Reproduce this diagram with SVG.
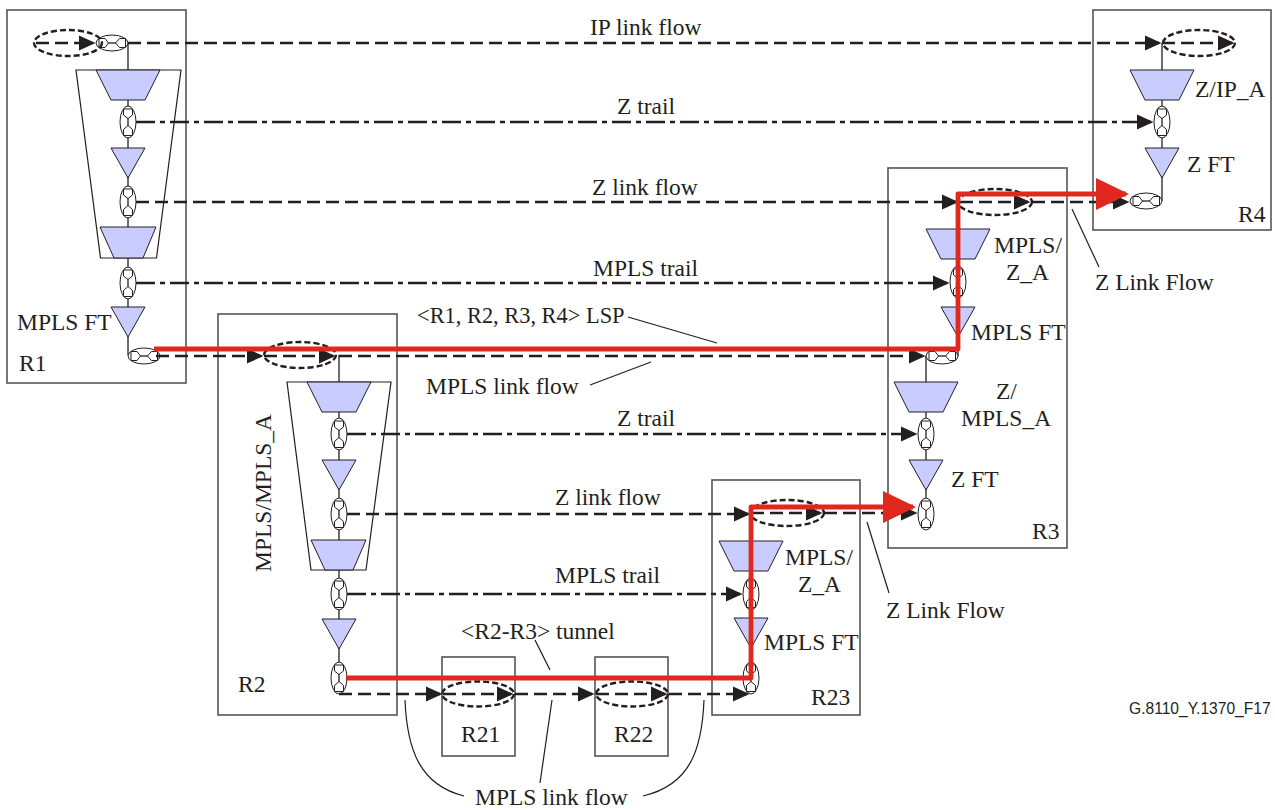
<svg xmlns="http://www.w3.org/2000/svg" xmlns:xlink="http://www.w3.org/1999/xlink" width="1275" height="810" viewBox="0 0 1275 810">
<style>
text{font-family:"Liberation Serif","Times New Roman",serif;font-size:23.5px;fill:#231f20}
.code{font-family:"Liberation Sans",Arial,sans-serif;font-size:15.6px}
.lsp{font-size:22.4px}
.box{fill:none;stroke:#555;stroke-width:1.6}
.outer{fill:none;stroke:#231f20;stroke-width:1.2}
.wire{fill:none;stroke:#231f20;stroke-width:1.3}
.blue{fill:#c9ccff;stroke:#231f20;stroke-width:1}
.flow{fill:none;stroke:#231f20;stroke-width:2.6;stroke-dasharray:13 6;marker-end:url(#ah)}
.trail{fill:none;stroke:#231f20;stroke-width:2.6;stroke-dasharray:19 5 5 5;marker-end:url(#ah)}
.loop{fill:none;stroke:#231f20;stroke-width:2.4;stroke-dasharray:6 3}
.lead{fill:none;stroke:#231f20;stroke-width:1.2}
.red{fill:none;stroke:#e0281e;stroke-width:4.8;stroke-linejoin:round}
.pe{fill:#fff;stroke:#231f20;stroke-width:1}
.ps{fill:#fff;stroke:#231f20;stroke-width:1}
</style>
<defs>
<marker id="ah" markerUnits="userSpaceOnUse" markerWidth="18" markerHeight="18" refX="14" refY="9" orient="auto"><path d="M0,1.500L16.500,9L0,16.500Z" fill="#231f20"/></marker>
<marker id="rh" markerUnits="userSpaceOnUse" markerWidth="34" markerHeight="34" refX="30" refY="17" orient="auto"><path d="M0,1L33,17L0,33Z" fill="#e0281e"/></marker>
<g id="pv"><ellipse class="pe" rx="8" ry="16"/><path class="wire" d="M0,-4V4"/><path class="ps" d="M-4.500,-13H4.500V-7L0,-3.500L-4.500,-7Z"/><path class="ps" d="M-4.500,13.500H4.500V7.500L0,3.500L-4.500,7.500Z"/></g>
<g id="ph"><ellipse class="pe" rx="16" ry="8"/><path class="wire" d="M-4,0H4"/><path class="ps" d="M-13,-4.500V4.500H-7L-3.500,0L-7,-4.500Z"/><path class="ps" d="M13.500,-4.500V4.500H7.500L3.500,0L7.500,-4.500Z"/></g>
<polygon id="trap" class="blue" points="-32,0 32,0 17,30 -17,30"/>
<polygon id="tri" class="blue" points="-17,0 17,0 0,30"/>
</defs>

<g id="R1">
<rect class="box" x="7" y="10" width="179" height="373"/>
<path class="wire" d="M128,43V355M128,355H140"/>
<polygon class="outer" points="76,70 181,70 156.500,258 100.500,258"/>
<use href="#trap" x="128" y="70"/>
<use href="#pv" x="128" y="122"/>
<use href="#tri" x="128" y="148"/>
<use href="#pv" x="128" y="202"/>
<polygon class="blue" points="100,227 156,227 143,258 114,258"/>
<use href="#pv" x="128" y="283"/>
<use href="#tri" x="128" y="307"/>
<use href="#ph" x="144" y="356"/>
<use href="#ph" x="112" y="43"/>
<ellipse class="loop" cx="68" cy="43" rx="34" ry="13"/>
<text x="17" y="330">MPLS FT</text>
<text x="19" y="371">R1</text>
</g>

<g id="R2">
<rect class="box" x="218" y="314" width="179" height="401"/>
<path class="wire" d="M339,355V694"/>
<polygon class="outer" points="287,382 391,382 366,570 311,570"/>
<use href="#trap" x="339" y="382"/>
<use href="#pv" x="339" y="434"/>
<use href="#tri" x="339" y="460"/>
<use href="#pv" x="339" y="514"/>
<polygon class="blue" points="311,540 366,540 353,570 325,570"/>
<use href="#pv" x="339" y="594"/>
<use href="#tri" x="339" y="619"/>
<use href="#pv" x="339" y="678"/>
<ellipse class="loop" cx="300" cy="355" rx="36" ry="13"/>
<text x="238" y="692">R2</text>
<text transform="translate(271,572) rotate(-90)">MPLS/MPLS_A</text>
</g>

<g id="R21">
<rect class="box" x="442" y="657" width="73" height="99"/>
<ellipse class="loop" cx="478" cy="694" rx="36" ry="12.500"/>
<text x="461" y="742">R21</text>
</g>

<g id="R22">
<rect class="box" x="595" y="657" width="73" height="99"/>
<ellipse class="loop" cx="632" cy="694" rx="36" ry="12.500"/>
<text x="614" y="742">R22</text>
</g>

<g id="R23">
<rect class="box" x="712" y="480" width="148" height="235"/>
<path class="wire" d="M751,513V694"/>
<use href="#trap" x="751" y="541"/>
<use href="#pv" x="751" y="594"/>
<use href="#tri" x="751" y="618"/>
<use href="#pv" x="751" y="678"/>
<ellipse class="loop" cx="787" cy="513" rx="37" ry="13"/>
<text x="785" y="565">MPLS/</text>
<text x="798" y="592">Z_A</text>
<text x="764" y="650">MPLS FT</text>
<text x="811" y="705">R23</text>
</g>

<g id="R3">
<rect class="box" x="888" y="168" width="179" height="380"/>
<path class="wire" d="M958,202V356M926,356V530"/>
<use href="#trap" x="958" y="229"/>
<use href="#pv" x="958" y="282"/>
<use href="#tri" x="958" y="307"/>
<use href="#ph" x="942" y="356"/>
<use href="#trap" x="926" y="382"/>
<use href="#pv" x="926" y="434"/>
<use href="#tri" x="926" y="460"/>
<use href="#pv" x="926" y="514"/>
<ellipse class="loop" cx="995" cy="202" rx="37" ry="13"/>
<text x="994" y="253">MPLS/</text>
<text x="1006" y="280">Z_A</text>
<text x="971" y="340">MPLS FT</text>
<text x="996" y="399">Z/</text>
<text x="961" y="426">MPLS_A</text>
<text x="951" y="487">Z FT</text>
<text x="1032" y="539">R3</text>
</g>

<g id="R4">
<rect class="box" x="1093" y="10" width="178" height="220"/>
<path class="wire" d="M1162,43V201"/>
<use href="#trap" x="1162" y="70"/>
<use href="#pv" x="1162" y="122"/>
<use href="#tri" x="1162" y="148"/>
<use href="#ph" x="1146" y="201"/>
<ellipse class="loop" cx="1199" cy="43" rx="36" ry="13"/>
<text x="1195" y="97">Z/IP_A</text>
<text x="1187" y="172">Z FT</text>
<text x="1238" y="222">R4</text>
</g>

<g id="connectors">
<path class="flow" d="M36,43H93"/>
<path class="flow" d="M128,43H1159"/>
<path class="flow" d="M1162,43H1232"/>
<path class="trail" d="M136,122H1151"/>
<path class="flow" d="M136,202H956"/>
<path class="flow" d="M960,202H1028"/>
<path class="flow" d="M1032,202H1127"/>
<path class="trail" d="M136,283H947"/>
<path class="flow" d="M156,356H261"/>
<path class="flow" d="M264,356H333"/>
<path class="flow" d="M339,356H923"/>
<path class="trail" d="M347,434H915"/>
<path class="flow" d="M347,514H748"/>
<path class="flow" d="M751,513H820"/>
<path class="flow" d="M824,513H915"/>
<path class="trail" d="M347,594H740"/>
<path class="flow" d="M339,694H440"/>
<path class="flow" d="M443,694H511"/>
<path class="flow" d="M515,694H592"/>
<path class="flow" d="M596,694H665"/>
<path class="flow" d="M669,694H747"/>
<path class="red" d="M154,349H958V194H1126" style="marker-end:url(#rh)"/>
<path class="red" d="M346,678H751V507H913" style="marker-end:url(#rh)"/>
<path class="lead" d="M628,317L717,343"/>
<path class="lead" d="M590,385L651,362"/>
<path class="lead" d="M1072,209L1099,267"/>
<path class="lead" d="M867,522L889,593"/>
<path class="lead" d="M535,640L550,670"/>
<path class="lead" d="M552,700L540,783"/>
<path class="lead" d="M405,700C407,750 420,785 464,796"/>
<path class="lead" d="M704,700C702,750 690,785 643,796"/>
</g>

<g id="labels">
<text x="590" y="35">IP link flow</text>
<text x="617" y="114">Z trail</text>
<text x="592" y="195">Z link flow</text>
<text x="593" y="276">MPLS trail</text>
<text class="lsp" x="417" y="323">&lt;R1, R2, R3, R4&gt; LSP</text>
<text x="426" y="394">MPLS link flow</text>
<text x="617" y="426">Z trail</text>
<text x="555" y="505">Z link flow</text>
<text x="555" y="583">MPLS trail</text>
<text x="461" y="639">&lt;R2-R3&gt; tunnel</text>
<text x="475" y="805">MPLS link flow</text>
<text x="1095" y="290">Z Link Flow</text>
<text x="886" y="618">Z Link Flow</text>
<text class="code" x="1129" y="714">G.8110_Y.1370_F17</text>
</g>
</svg>
